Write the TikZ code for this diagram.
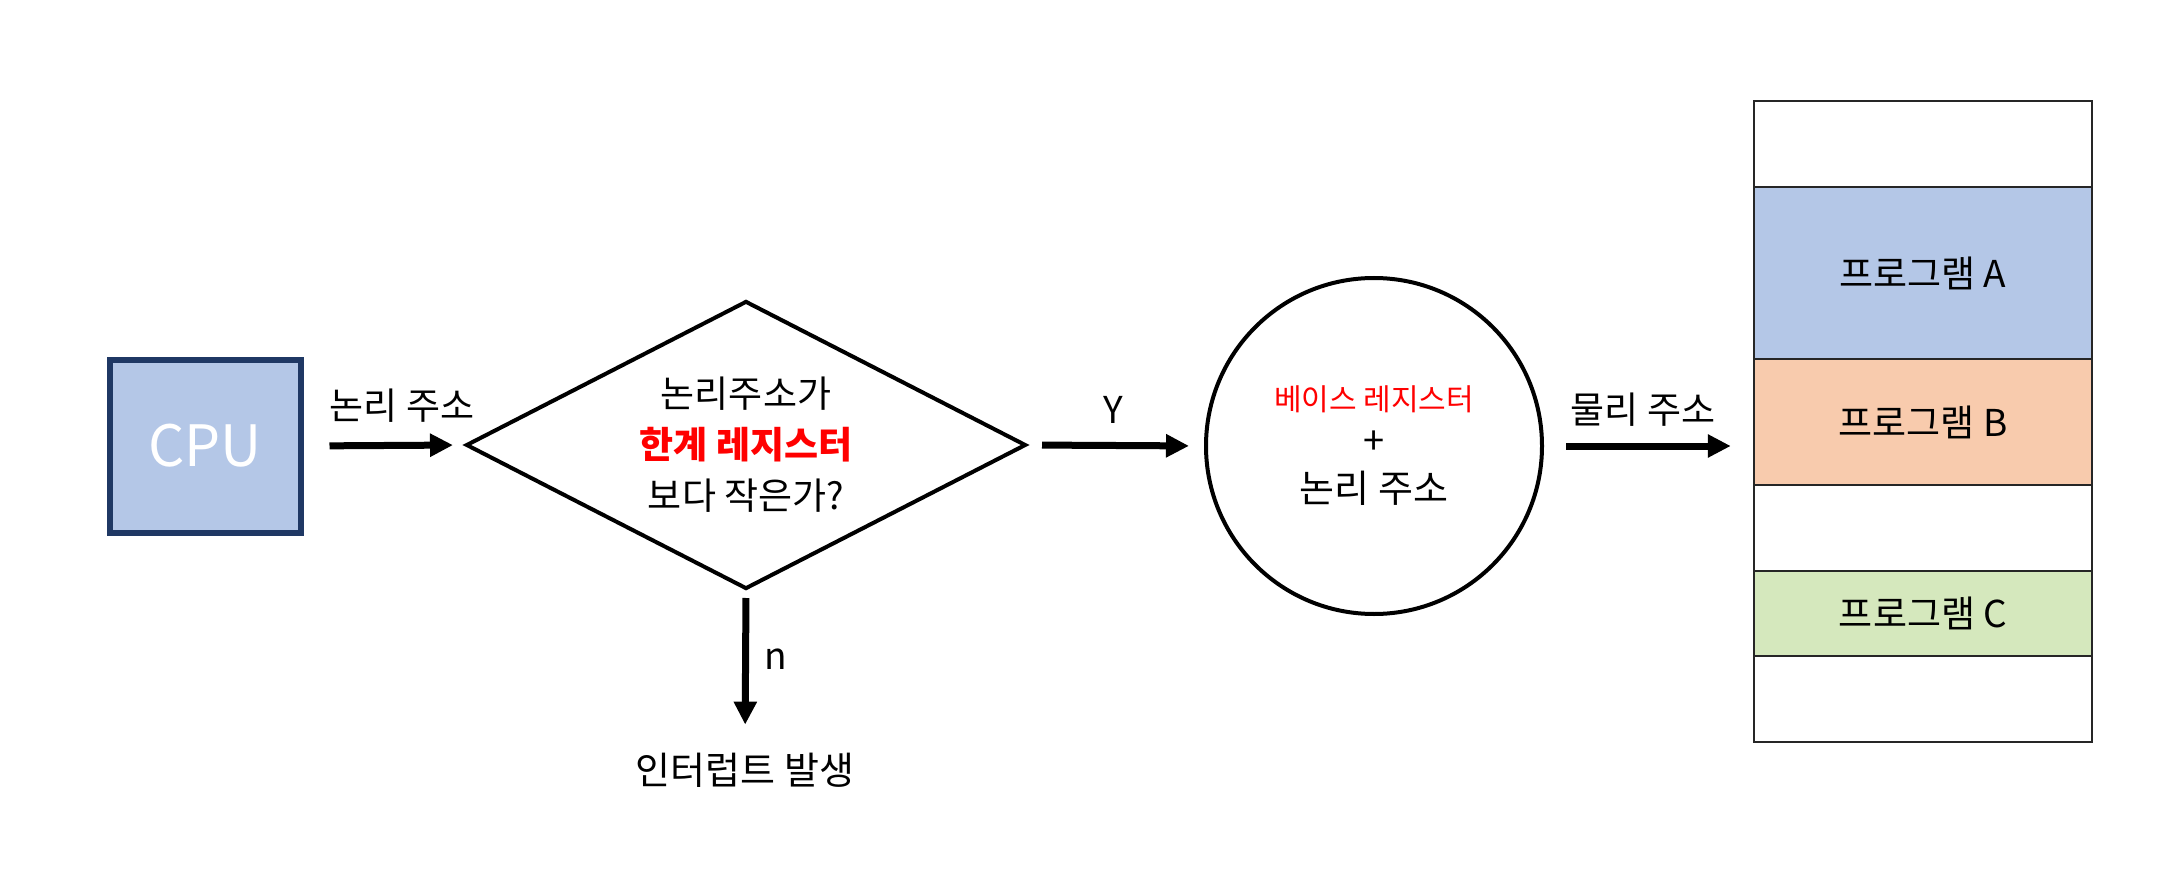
\documentclass[tikz,border=0pt]{standalone}
\usepackage{fontspec}
\setmainfont{Noto Sans CJK KR}
\usetikzlibrary{shapes.geometric,arrows.meta}
\definecolor{cpublue}{HTML}{B4C7E7}
\definecolor{navy}{HTML}{1F3864}
\definecolor{peach}{HTML}{F8CBAD}
\definecolor{lgreen}{HTML}{D5E8BD}
\definecolor{hred}{HTML}{FF0000}
\tikzset{
  flow/.style={line width=7pt,-{Triangle[length=23pt,width=22pt]}},
  txt/.style={inner sep=0pt,font=\fontsize{37}{46}\selectfont},
  memrow/.style={draw=black!85,line width=2.5pt,minimum width=338pt,inner sep=0pt,font=\fontsize{37}{44}\selectfont},
}
\begin{document}
\begin{tikzpicture}[x=1pt,y=-1pt]
\path[use as bounding box,fill=white] (0,0) rectangle (2174,885);
% CPU
\node[draw=navy,line width=6pt,fill=cpublue,minimum width=191pt,minimum height=173pt,inner sep=0pt,
      text=white,font=\fontsize{57}{60}\selectfont] (cpu) at (205,446) {CPU};
% decision
\node[draw,diamond,line width=4pt,minimum width=560pt,minimum height=288pt,aspect=1.944,inner sep=0pt,
      align=center,font=\fontsize{37}{51}\selectfont] (dec) at (746,445)
      {논리주소가\\{\color{hred}\bfseries 한계 레지스터}\\보다 작은가?};
% adder circle
\node[draw,circle,line width=4pt,minimum size=336pt,inner sep=0pt,align=center,
      font=\fontsize{38}{48}\selectfont] (add) at (1374,446)
      {{\color{hred}\fontsize{30}{44}\selectfont 베이스 레지스터}\\[-4pt]+\\논리 주소};
% interrupt
\node[txt,font=\fontsize{38}{46}\selectfont] (intr) at (745,770) {인터럽트 발생};
% memory
\node[memrow,minimum height=86pt] (m1) at (1923,144) {};
\node[memrow,minimum height=172pt,fill=cpublue] (mA) at (1923,273) {프로그램 A};
\node[memrow,minimum height=126pt,fill=peach] (mB) at (1923,422) {프로그램 B};
\node[memrow,minimum height=86pt] (m2) at (1923,528) {};
\node[memrow,minimum height=85pt,fill=lgreen] (mC) at (1923,613.5) {프로그램 C};
\node[memrow,minimum height=86pt] (m3) at (1923,699) {};
% arrows
\draw[flow,shorten <=26pt,shorten >=11pt] (cpu.east) -- (dec.west);
\draw[flow,shorten <=14pt,shorten >=15pt] (dec.east) -- (add.west);
\draw[flow,shorten <=22pt,shorten >=22pt] (add.east) -- (mB.west |- add.east);
\draw[flow,shorten <=7pt,shorten >=28pt] (dec.south) -- (intr.north);
% labels
\node[txt] (l1) at (402,406) {논리 주소};
\node[txt] (ly) at (1113,410) {Y};
\node[txt] (l2) at (1643,410) {물리 주소};
\node[txt] (ln) at (776,659) {n};
\end{tikzpicture}
\end{document}
